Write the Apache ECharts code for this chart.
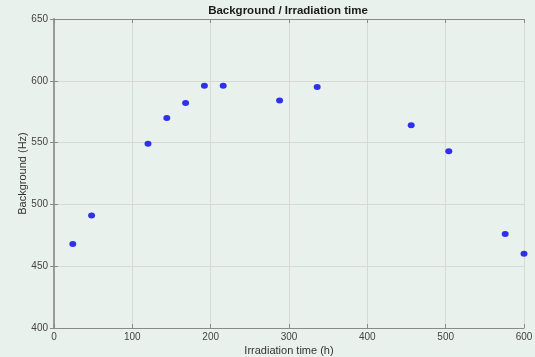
<!DOCTYPE html>
<html>
<head>
<meta charset="utf-8">
<script src="https://cdn.jsdelivr.net/npm/echarts@6/dist/echarts.min.js"></script>
<style>
html,body{margin:0;padding:0;background:#e9f1ec;}
#c{width:535px;height:357px;}
</style>
</head>
<body>
<div id="c"></div>
<script>
const times = [24, 48, 120, 144, 168, 192, 216, 288, 336, 456, 504, 576, 600];
const background = [468, 491, 549, 570, 582, 596, 596, 584, 595, 564, 543, 476, 460];
const xTicks = [0, 100, 200, 300, 400, 500, 600];
const yTicks = [400, 450, 500, 550, 600, 650];

const font = '"Liberation Sans", Arial, Helvetica, sans-serif';
const chart = echarts.init(document.getElementById('c'));
const data = times.map((t, i) => [t, background[i]]);
const baseAxis = {
  axisLine: {show: true, lineStyle: {color: '#8a8a8a', width: 1}},
  axisTick: {show: true, inside: true, length: 4, lineStyle: {color: '#8a8a8a'}},
};
chart.setOption({
  backgroundColor: '#e9f1ec',
  animation: false,
  title: {
    text: 'Background / Irradiation time',
    left: 283, top: 0, textAlign: 'center',
    textStyle: {fontFamily: font, fontSize: 11.5, fontWeight: 'bold', color: '#1a1a1a'}
  },
  grid: {left: 54, right: 11, top: 19, bottom: 29, containLabel: false, outerBoundsMode: 'none'},
  xAxis: [{
    ...baseAxis,
    type: 'value', min: xTicks[0], max: xTicks[xTicks.length - 1], interval: 100,
    name: 'Irradiation time (h)', nameLocation: 'middle', nameGap: 17, nameMoveOverlap: false,
    nameTextStyle: {fontFamily: font, fontSize: 11, color: '#333'},
    axisLabel: {fontFamily: font, fontSize: 10, color: '#444', margin: 4},
    splitLine: {show: true, lineStyle: {color: '#d6d9d7', width: 1}}
  }, {
    ...baseAxis,
    type: 'value', position: 'top', min: 0, max: 600, interval: 100,
    axisLabel: {show: false}, splitLine: {show: false}
  }],
  yAxis: [{
    ...baseAxis,
    type: 'value', min: yTicks[0], max: yTicks[yTicks.length - 1], interval: 50,
    name: 'Background (Hz)', nameLocation: 'middle', nameGap: 26, nameMoveOverlap: false,
    nameTextStyle: {fontFamily: font, fontSize: 11, color: '#333'},
    axisLabel: {fontFamily: font, fontSize: 10, color: '#444', margin: 6},
    splitLine: {show: true, lineStyle: {color: '#d6d9d7', width: 1}}
  }, {
    ...baseAxis,
    type: 'value', position: 'right', min: 400, max: 650, interval: 50,
    axisLine: {show: true, lineStyle: {color: '#9a9a9a', width: 2}},
    axisLabel: {show: false}, splitLine: {show: false}
  }],
  series: [{
    type: 'scatter',
    data: data,
    symbol: 'circle',
    symbolSize: [7, 6],
    itemStyle: {color: '#0000ee'}
  }]
});
</script>
</body>
</html>
